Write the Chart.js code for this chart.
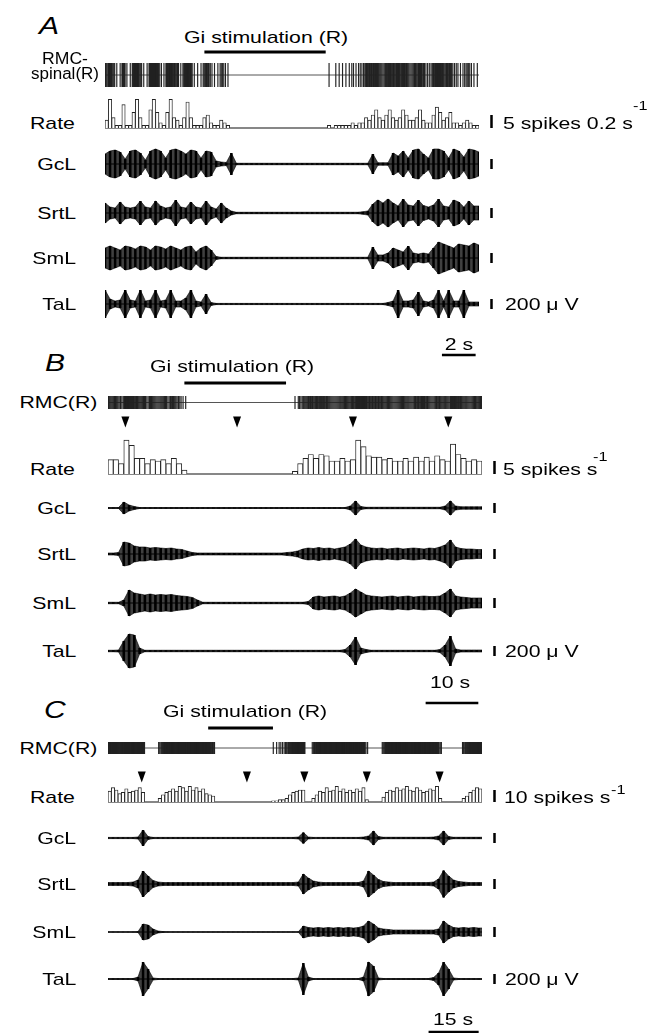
<!DOCTYPE html>
<html><head><meta charset="utf-8">
<script src="https://cdn.jsdelivr.net/npm/chart.js@4.4.0/dist/chart.umd.min.js"></script>
<style>
body{margin:0;background:#fff;}
#fig{position:relative;width:653px;height:1033px;overflow:hidden;font-family:"Liberation Sans",Arial,Helvetica,sans-serif;color:#000;background:#fff;}
#fig canvas{position:absolute;}
.t{position:absolute;white-space:nowrap;}
</style></head><body><div id="fig"></div>
<script>
// ---------------- DATA ----------------
// Panel A (0.2 s bins, spikes per bin)
const durationA = 22.2;
const rateBinA = 0.2;
const rateA = [3,11,4,1,1,9,1,1,6,11, 4,1,1,7,11,6,2,1,6,11, 4,3,1,4,10,4,1,1,1,4, 5,2,1,1,3,2,1,0,0,0,
  0,0,0,0,0,0,0,0,0,0, 0,0,0,0,0,0,0,0,0,0, 0,0,0,0,0,0,1,0,1,1, 1,1,1,2,1,2,2,4,3,5,
  7,4,3,5,7,4,3,4,7,5, 3,3,4,7,3,2,2,5,8,6, 3,4,6,2,2,1,2,3,2,1, 1];
const stimA = [5.9, 13.1];
const scaleBarA = [20.0, 2];
const emgStepA = 0.3;
const gclA = [200,260,280,240,100,260,280,220,80,260, 300,260,120,280,300,260,200,280,260,120, 260,240,60,40,30,220,15,15,15,15,
  15,15,15,15,15,15,15,15,15,15, 15,15,15,15,15,15,15,15,15,15, 15,15,15,200,25,25,25,220,160,260,
  120,280,300,200,120,300,300,260,120,300, 260,140,300,280,240];
const srtA = [200,120,100,220,120,100,120,240,120,100, 240,140,100,120,260,120,100,220,120,100, 240,120,80,200,100,40,15,15,15,15,
  15,15,15,15,15,15,15,15,15,15, 15,15,15,15,15,15,15,15,15,15, 15,25,40,180,260,200,280,200,140,280,
  160,140,260,150,120,160,280,140,120,260, 220,120,240,140,140];
const smlA = [200,240,200,160,240,220,180,240,220,160, 240,220,180,240,200,160,220,240,120,200, 240,160,30,15,15,15,15,15,15,15,
  15,15,15,15,15,15,15,15,15,15, 15,15,15,15,15,15,15,15,15,15, 15,15,15,220,60,60,100,200,160,120,
  240,100,80,100,80,200,320,280,240,200, 280,260,240,300,260];
const talA = [280,100,60,80,280,80,60,280,60,80, 280,60,80,280,60,60,120,280,60,40, 200,30,12,12,12,12,12,12,12,12,
  12,12,12,12,12,12,12,12,12,12, 12,12,12,12,12,12,12,12,12,12, 12,12,12,12,12,12,30,60,280,60,
  60,80,240,60,40,80,280,60,280,60, 60,280,40,40,40];

// Panel B (1 s bins, spikes/s)
const durationB = 71;
const rateBinB = 1;
const rateB = [5.5,5.5,4,13,11,6,6,4,5.5,5, 5.5,4,6,4,1.5,0,0,0,0,0, 0,0,0,0,0,0,0,0,0,0, 0,0,0,0,0,1,4,6,7.5,6,
  7.5,7,5,5,6,5,5.5,13,10.5,7, 6.5,6.5,5.5,6,5,5,6,5,6.5,5, 6.5,5,7,5.5,5,11.5,7.5,6,5,5.5, 5];
const arrowsB = [3.3, 24.5, 46.5, 64.6];
const stimB = [14.5, 33.8];
const scaleBarB = [60.3, 10];
const emgStepB = 1;
const gclB = [10,10,10,120,60,30,10,10,10,10, 10,10,10,10,10,10,10,10,10,10, 10,10,10,10,10,10,10,10,10,10, 10,10,10,10,10,10,10,10,10,10,
  10,10,10,10,10,10,40,140,30,15, 15,15,15,15,15,15,15,15,15,15, 15,15,15,15,40,140,40,25,25,25, 25,25];
const srtB = [20,20,30,240,220,160,140,140,120,130, 120,110,120,100,90,60,30,20,20,20, 20,20,20,20,20,20,20,20,20,20, 20,20,20,20,30,40,60,100,120,110,
  130,110,120,100,120,140,200,300,180,140, 120,110,120,100,110,120,100,110,120,110, 100,120,110,140,180,280,140,110,100,100, 90,90];
const smlB = [15,15,15,60,260,200,180,160,180,160, 170,160,170,150,140,130,110,60,15,15, 15,15,15,15,15,15,15,15,15,15, 15,15,15,15,15,15,15,15,30,120,
  140,120,130,140,120,140,200,280,220,160, 140,130,120,130,140,120,130,140,120,130, 140,130,130,140,200,280,140,120,110,100, 100,100];
const talB = [15,15,20,200,340,320,60,15,15,15, 15,15,15,15,15,15,15,15,15,15, 15,15,15,15,15,15,15,15,15,15, 15,15,15,15,15,15,15,15,15,15,
  15,15,15,15,15,30,120,280,60,30, 15,15,15,15,15,15,15,15,15,15, 15,15,15,30,120,300,40,20,20,20, 20,20];

// Panel C (1 s bins, spikes/s)
const durationC = 112;
const rateBinC = 1;
const rateC = [9,12,10,7,8,11,8,9,10,12, 8,0,0,0,0,3,6,8,9,11, 9,13,12,9,13,10,12,9,11,7, 6,5,0,0,0,0,0,0,0,0,
  0,0,0,0,0,0,0,0,0,1, 1,2,2,3,6,8,9,10,10,0, 0,3,6,9,8,12,9,10,13,9, 11,8,10,8,11,9,12,2,0,0,
  0,0,4,8,10,9,12,10,11,13, 10,9,12,10,8,9,11,10,13,3, 0,0,0,0,0,0,3,5,8,10, 12,11];
const arrowsC = [10.1, 41.6, 58.8, 77.5, 99.3];
const stimC = [30.0, 49.4];
const scaleBarC = [96, 15];
const emgStepC = 1.5;
const gclC = [12,12,12,12,12,12,20,160,30,12, 12,12,12,12,12,12,12,12,12,12, 12,12,12,12,12,12,12,12,12,12, 12,12,12,12,12,12,12,12,20,110,
  20,12,12,12,12,12,12,12,12,12, 12,20,40,140,30,15,15,15,15,15, 15,15,15,15,15,20,40,140,30,15, 15,15,15,15,15,15];
const srtC = [30,30,30,30,30,40,80,260,160,70, 40,30,30,30,30,30,30,30,30,30, 30,30,30,30,30,30,30,30,30,30, 30,30,30,30,30,30,30,30,40,200,
  120,60,40,30,30,30,30,30,30,30, 30,60,260,180,90,50,40,30,30,30, 30,30,30,30,30,40,100,270,160,80, 50,40,30,30,30,30];
const smlC = [5,5,5,5,5,5,10,160,140,60, 20,8,5,5,5,5,5,5,5,5, 5,5,5,5,5,5,5,5,5,5, 5,5,5,5,5,5,5,5,5,120,
  90,80,90,80,90,80,90,80,90,80, 90,120,220,160,80,60,50,40,40,40, 40,40,40,40,40,40,60,220,140,90, 80,90,80,90,80,80];
const talC = [10,10,10,10,10,10,40,340,200,20, 10,10,10,10,10,10,10,10,10,10, 10,10,10,10,10,10,10,10,10,10, 10,10,10,10,10,10,10,10,20,320,
  40,10,10,10,10,10,10,10,10,10, 10,40,340,260,20,10,10,10,10,10, 10,10,10,10,10,30,120,340,200,20, 10,10,10,10,10,10];

const emgNames = ["GcL", "SrtL", "SmL", "TaL"];

// ---------------- RENDERING ----------------
const SX = 1.25;           // horizontal stretch of the figure
const FIG = document.getElementById('fig');

const scaleBarPlugin = {
  id: 'sbar',
  afterDraw(chart, args, opts) {
    if (!opts || opts.value == null) return;
    const {ctx, chartArea, scales} = chart;
    const y = scales.y;
    const base = opts.base || 0;
    const p0 = y.getPixelForValue(base), p1 = y.getPixelForValue(base + opts.value);
    ctx.save();
    ctx.fillStyle = '#000';
    ctx.fillRect(chartArea.right + opts.dx, Math.min(p0, p1), 2.5, Math.abs(p1 - p0));
    ctx.restore();
  }
};
// elongated down-pointing arrowheads at the points of dataset 0
const arrowPlugin = {
  id: 'arrowheads',
  afterDatasetsDraw(chart, args, opts) {
    if (!opts || !opts.on) return;
    const ctx = chart.ctx;
    ctx.save(); ctx.fillStyle = '#000';
    chart.getDatasetMeta(0).data.forEach(pt => {
      ctx.beginPath();
      ctx.moveTo(pt.x - 4, pt.y - 5.5); ctx.lineTo(pt.x + 4, pt.y - 5.5); ctx.lineTo(pt.x, pt.y + 5.5);
      ctx.closePath(); ctx.fill();
    });
    ctx.restore();
  }
};
Chart.register(scaleBarPlugin, arrowPlugin);

function addCanvas(leftU, top, wU, h) {
  const c = document.createElement('canvas');
  const left = Math.round(leftU * SX), w = Math.round(wU * SX);
  c.width = w; c.height = h;
  c.style.left = left + 'px'; c.style.top = top + 'px';
  c.style.width = w + 'px'; c.style.height = h + 'px';
  FIG.appendChild(c);
  return c;
}
function addText(txt, xU, baseline, o = {}) {
  const fs = o.fs || 17;
  const x = xU * SX;
  const d = document.createElement('div');
  d.className = 't';
  d.textContent = txt;
  d.style.fontSize = fs + 'px';
  d.style.lineHeight = fs + 'px';
  d.style.top = (baseline - 0.8465 * fs) + 'px';
  if (o.italic) d.style.fontStyle = 'italic';
  let origin = 'left';
  if (o.align === 'right') { d.style.right = (653 - x) + 'px'; d.style.textAlign = 'right'; origin = 'right'; }
  else if (o.align === 'center') { d.style.left = (x - 150) + 'px'; d.style.width = '300px'; d.style.textAlign = 'center'; origin = 'center'; }
  else d.style.left = x + 'px';
  d.style.transform = 'scaleX(' + (SX * (o.sx || 1)) + ')';
  d.style.transformOrigin = origin;
  FIG.appendChild(d);
  return d;
}

const PAD_R = 20;
function row(panel, top, height, yMin, yMax, datasets, plugins) {
  const c = addCanvas(panel.x0, top, panel.w + PAD_R, height);
  return new Chart(c, {
    type: 'bar',
    data: { datasets },
    options: {
      responsive: false, animation: false, devicePixelRatio: 1, events: [],
      layout: { padding: { left: 0, right: c.width - Math.round(panel.w * SX), top: 0, bottom: 0 } },
      plugins: Object.assign({ legend: { display: false }, tooltip: { enabled: false } }, plugins || {}),
      scales: {
        x: { type: 'linear', min: 0, max: panel.T, offset: false, display: false },
        y: { type: 'linear', min: yMin, max: yMax, display: false }
      }
    }
  });
}
function hline(x1, x2, w, color) {
  return { type: 'line', data: [{x: x1, y: 0}, {x: x2, y: 0}], borderColor: color || '#000',
           borderWidth: w, pointRadius: 0, borderCapStyle: 'butt' };
}
function emgSets(env, step) {
  return [
    { type: 'line', data: env.map((a, i) => ({x: i * step, y: a})), borderWidth: 0.6, borderColor: '#000',
      pointRadius: 0, fill: '+1', backgroundColor: 'rgba(0,0,0,0.75)', tension: 0 },
    { type: 'line', data: env.map((a, i) => ({x: i * step, y: -a})), borderWidth: 0.6, borderColor: '#000',
      pointRadius: 0, fill: false, tension: 0 },
    { type: 'bar', data: env.map((a, i) => ({x: i * step, y: [-a, a]})), backgroundColor: '#000',
      barPercentage: 0.5, categoryPercentage: 1, borderWidth: 0, borderSkipped: false }
  ];
}
function rateSet(vals, bin) {
  return { type: 'bar', data: vals.map((v, i) => ({x: (i + 0.5) * bin, y: v})),
           backgroundColor: '#fff', borderColor: '#222', borderWidth: 0.9,
           barPercentage: 1, categoryPercentage: 1, borderSkipped: 'start' };
}
// spikes in each histogram bin are spread evenly through that bin
function spikesFrom(vals, bin) {
  const out = [];
  vals.forEach((v, i) => {
    const n = Math.round(v * (bin >= 1 ? bin : 1));
    for (let k = 0; k < n; k++) out.push({x: (i + (k + 0.5) / n) * bin, y: [-1, 1]});
  });
  return out;
}
function rasterSet(spikes) {
  return { type: 'bar', data: spikes, backgroundColor: '#222', barThickness: 0.5, borderWidth: 0, borderSkipped: false };
}
function arrowSet(times) {
  return { type: 'line', showLine: false, data: times.map(t => ({x: t, y: 0})), pointRadius: 0 };
}
function rateRow(panel, baseline, ppu, top, height, vals, bin, barVal) {
  const yMin = -(top + height - baseline) / ppu, yMax = (baseline - top) / ppu;
  row(panel, top, height, yMin, yMax, [rateSet(vals, bin), hline(0, panel.T, 1.2, '#111')],
      { sbar: { value: barVal, base: 0, dx: 9 * SX } });
}
function emgRow(panel, cy, env, step) {
  const h = 46, upp = 20; // 20 uV per px
  row(panel, cy - h / 2, h, -h / 2 * upp, h / 2 * upp, emgSets(env, step).concat([hline(0, panel.T, 1, '#000')]),
      { sbar: { value: 200, base: -100, dx: 9 * SX } });
}
function lineRow(panel, cy, t1, t2, w) {
  row(panel, cy - 4, 8, -1, 1, [hline(t1, t2, w, '#000')]);
}
function rasterRow(panel, top, height, vals, bin) {
  row(panel, top, height, -1, 1, [rasterSet(spikesFrom(vals, bin)), hline(0, panel.T, 1, '#555')]);
}
function arrowRow(panel, cy, times) {
  row(panel, cy - 8, 16, -1, 1, [arrowSet(times)], { arrowheads: { on: true } });
}

// ---- Panel A ----
const PA = { x0: 84, w: 299, T: durationA };
addText('A', 31, 34, { fs: 24, italic: true });
addText('Gi stimulation (R)', 147, 43);
lineRow(PA, 52, stimA[0], stimA[1], 3);
addText('RMC-', 52, 65, { align: 'center', fs: 16, sx: 0.88 });
addText('spinal(R)', 52, 80, { align: 'center', fs: 16, sx: 0.85 });
rasterRow(PA, 63, 24, rateA, rateBinA);
addText('Rate', 60, 129, { align: 'right' });
rateRow(PA, 128, 2.6, 96, 34, rateA, rateBinA, 5);
addText('5 spikes 0.2 s', 402, 129);
addText('-1', 506, 110, { fs: 13 });
const cyA = [164, 213, 258, 304];
[gclA, srtA, smlA, talA].forEach((env, k) => {
  emgRow(PA, cyA[k], env, emgStepA);
  addText(emgNames[k], 61, cyA[k] + 6, { align: 'right' });
});
addText('200 \u03bc V', 404, 310);
lineRow(PA, 355, scaleBarA[0], scaleBarA[0] + scaleBarA[1], 2.5);
addText(scaleBarA[1] + ' s', 367, 350, { align: 'center' });

// ---- Panel B ----
const PB = { x0: 86, w: 299, T: durationB };
addText('B', 36, 371, { fs: 24, italic: true });
addText('Gi stimulation (R)', 120, 372);
lineRow(PB, 383, stimB[0], stimB[1], 3);
addText('RMC(R)', 78, 408, { align: 'right' });
rasterRow(PB, 396, 13, rateB, rateBinB);
arrowRow(PB, 422, arrowsB);
addText('Rate', 60, 475, { align: 'right' });
rateRow(PB, 474, 2.6, 436, 40, rateB, rateBinB, 5);
addText('5 spikes s', 402, 475);
addText('-1', 474, 461, { fs: 13 });
const cyB = [508, 554, 603, 651];
[gclB, srtB, smlB, talB].forEach((env, k) => {
  emgRow(PB, cyB[k], env, emgStepB);
  addText(emgNames[k], 61, cyB[k] + 6, { align: 'right' });
});
addText('200 \u03bc V', 404, 657);
lineRow(PB, 703, scaleBarB[0], scaleBarB[0] + scaleBarB[1], 2.5);
addText(scaleBarB[1] + ' s', 360, 688, { align: 'center' });

// ---- Panel C ----
const PC = { x0: 86, w: 299, T: durationC };
addText('C', 35, 718, { fs: 24, italic: true });
addText('Gi stimulation (R)', 130, 717);
lineRow(PC, 728, stimC[0], stimC[1], 3);
addText('RMC(R)', 78, 754, { align: 'right' });
rasterRow(PC, 742, 12, rateC, rateBinC);
arrowRow(PC, 777, arrowsC);
addText('Rate', 60, 803, { align: 'right' });
rateRow(PC, 802, 1.2, 782, 22, rateC, rateBinC, 10);
addText('10 spikes s', 403, 803);
addText('-1', 489, 794, { fs: 13 });
const cyC = [838, 884, 932, 979];
[gclC, srtC, smlC, talC].forEach((env, k) => {
  emgRow(PC, cyC[k], env, emgStepC);
  addText(emgNames[k], 61, cyC[k] + 6, { align: 'right' });
});
addText('200 \u03bc V', 404, 985);
lineRow(PC, 1032, scaleBarC[0], scaleBarC[0] + scaleBarC[1], 2.5);
addText(scaleBarC[1] + ' s', 362, 1025, { align: 'center' });
</script></body></html>
